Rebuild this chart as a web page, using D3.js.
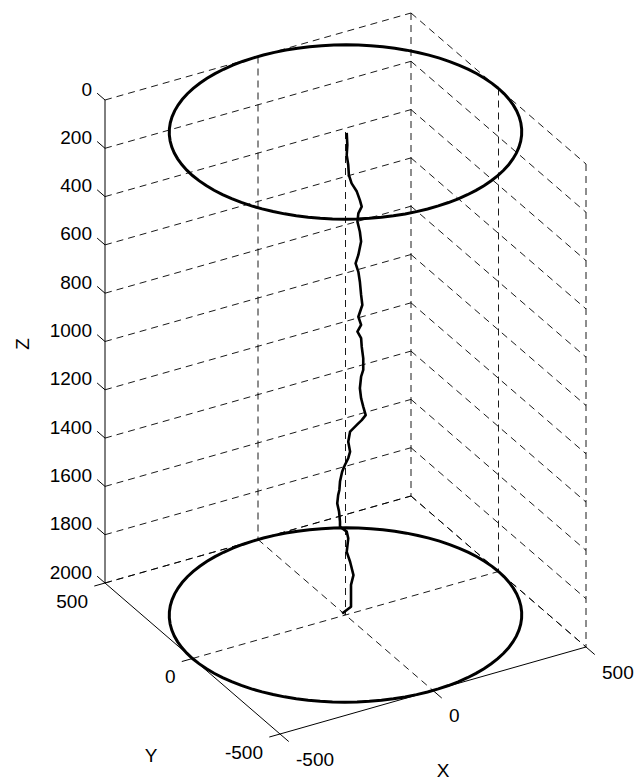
<!DOCTYPE html>
<html>
<head>
<meta charset="utf-8">
<script src="https://cdn.jsdelivr.net/npm/d3@7"></script>
<style>
  html, body { margin: 0; padding: 0; background: #fff; }
  svg text { font-family: "Liberation Sans", Arial, Helvetica, sans-serif; fill: #000; }
</style>
</head>
<body>
<svg id="chart" width="644" height="779"></svg>
<script>
// ---- data ----
const xTicks = [-500, 0, 500];
const yTicks = [-500, 0, 500];
const zTicks = [0, 200, 400, 600, 800, 1000, 1200, 1400, 1600, 1800, 2000];
const circleRadius = 500;
const circleDepths = [0, 2000];
// well trajectory (x, y, z)
const trajX = [4, 6, 4, 9, 11, 20, 37, 47, 53, 42, 39, 47, 51, 42, 33, 42, 47, 51, 55, 42, 51, 39, 51, 53, 58, 58, 51, 47, 51, 58, 66, 53, 37, 15, 9, 15, 9, -2, -11, -18, -20, -24, -27, -21, -18, -18, 4, 9, 4, 15, 26, 18, 18, 18, -11];
const trajY = [0, 0, 0, 0, 0, 0, 0, 0, 0, 0, 0, 0, 0, 0, 0, 0, 0, 0, 0, 0, 0, 0, 0, 0, 0, 0, 0, 0, 0, 0, 0, 0, 0, 0, 0, 0, 0, 0, 0, 0, 0, 0, 0, 0, 0, 0, 0, 0, 0, 0, 0, 0, 0, 0, 0];
const trajZ = [5, 56, 97, 140, 182, 220, 260, 299, 328, 352, 385, 430, 472, 524, 556, 594, 637, 693, 736, 780, 817, 841, 872, 908, 958, 1006, 1031, 1078, 1121, 1158, 1196, 1212, 1226, 1246, 1286, 1329, 1354, 1378, 1403, 1441, 1475, 1495, 1528, 1565, 1607, 1628, 1656, 1686, 1740, 1785, 1844, 1882, 1937, 1972, 1990];
const centerLine = [[0, 0, 0], [0, 0, 2000]];

// ---- projection via d3 scales ----
const xS = d3.scaleLinear().domain([-500, 500]).range([0, 1]);
const yS = d3.scaleLinear().domain([500, -500]).range([0, 1]);
const zS = d3.scaleLinear().domain([0, 2000]).range([0, 1]);
const A = [105, 100], U = [306, -87], V = [175, 151], W = [0, 483];
function P(x, y, z) {
  const a = xS(x), b = yS(y), c = zS(z);
  return [A[0] + a * U[0] + b * V[0] + c * W[0], A[1] + a * U[1] + b * V[1] + c * W[1]];
}

const svg = d3.select("#chart");
const line = d3.line();
const DASH = "7,5";

function seg(g, p, q, dashed, w) {
  g.append("path").attr("d", line([p, q]))
    .attr("fill", "none").attr("stroke", "#000")
    .attr("stroke-width", w || 0.9)
    .attr("stroke-dasharray", dashed ? DASH : null);
}

const grid = svg.append("g");
// back wall y = 500
zTicks.forEach(z => seg(grid, P(-500, 500, z), P(500, 500, z), true));
xTicks.filter(x => x > -500).forEach(x => seg(grid, P(x, 500, 0), P(x, 500, 2000), true));
// right wall x = 500
zTicks.forEach(z => seg(grid, P(500, 500, z), P(500, -500, z), true));
yTicks.filter(y => y < 500).forEach(y => seg(grid, P(500, y, 0), P(500, y, 2000), true));
// floor z = 2000
xTicks.filter(x => x > -500).forEach(x => seg(grid, P(x, 500, 2000), P(x, -500, 2000), true));
yTicks.filter(y => y > -500).forEach(y => seg(grid, P(-500, y, 2000), P(500, y, 2000), true));

// axes
const ax = svg.append("g");
seg(ax, P(-500, 500, 0), P(-500, 500, 2000), false, 1);
seg(ax, P(-500, 500, 2000), P(-500, -500, 2000), false, 1);
seg(ax, P(-500, -500, 2000), P(500, -500, 2000), false, 1);
zTicks.forEach(z => seg(ax, P(-500, 500, z), P(-500, 545, z), false, 1));
yTicks.forEach(y => seg(ax, P(-500, y, 2000), P(-535, y, 2000), false, 1));
xTicks.forEach(x => seg(ax, P(x, -500, 2000), P(x, -550, 2000), false, 1));

// tick labels
const lab = svg.append("g").attr("font-size", 19);
zTicks.forEach(z => {
  const p = P(-500, 500, z);
  lab.append("text").attr("x", p[0] - 13).attr("y", p[1] - 11)
    .attr("text-anchor", "end").attr("dominant-baseline", "central").text(z);
});
yTicks.forEach(y => {
  const p = P(-500, y, 2000);
  lab.append("text").attr("x", p[0] - 17).attr("y", p[1] + 18)
    .attr("text-anchor", "end").attr("dominant-baseline", "central").text(y);
});
xTicks.forEach(x => {
  const p = P(x, -500, 2000);
  lab.append("text").attr("x", p[0] + 16).attr("y", p[1] + 25)
    .attr("text-anchor", "start").attr("dominant-baseline", "central").text(x);
});
// axis titles
lab.append("text").attr("transform", "translate(22,344) rotate(-90)")
  .attr("text-anchor", "middle").attr("dominant-baseline", "central").text("Z");
lab.append("text").attr("x", 151).attr("y", 755)
  .attr("text-anchor", "middle").attr("dominant-baseline", "central").text("Y");
lab.append("text").attr("x", 443).attr("y", 770)
  .attr("text-anchor", "middle").attr("dominant-baseline", "central").text("X");

// center dashed line
const marks = svg.append("g");
seg(marks, P(...centerLine[0]), P(...centerLine[1]), true, 0.9);

// circles
const angles = d3.range(0, 361, 4);
circleDepths.forEach(d => {
  const pts = angles.map(t => P(circleRadius * Math.cos(t * Math.PI / 180), circleRadius * Math.sin(t * Math.PI / 180), d));
  marks.append("path").attr("d", line(pts))
    .attr("fill", "none").attr("stroke", "#000").attr("stroke-width", 3);
});

// trajectory
const tpts = trajX.map((x, i) => P(x, trajY[i], trajZ[i]));
marks.append("path").attr("d", line(tpts))
  .attr("fill", "none").attr("stroke", "#000").attr("stroke-width", 2.6)
  .attr("stroke-linejoin", "round");
</script>
</body>
</html>
